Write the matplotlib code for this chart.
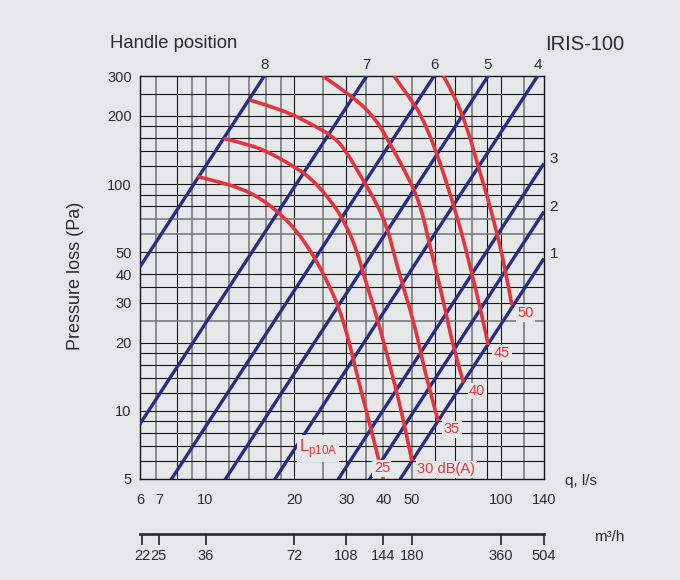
import matplotlib
matplotlib.use('Agg')
import matplotlib.pyplot as plt
from matplotlib.ticker import NullLocator
from matplotlib.path import Path
from matplotlib.patches import PathPatch
import numpy as np

plt.rcParams['font.family'] = ['Liberation Sans', 'DejaVu Sans']

# ---------------- data ----------------
x_ticks = [6, 7, 10, 20, 30, 40, 50, 100, 140]
y_ticks = [5, 10, 20, 30, 40, 50, 100, 200, 300]
m3h_ticks = [22, 25, 36, 72, 108, 144, 180, 360, 504]

grid_q = [6.8, 8, 9, 10, 12, 14, 16, 18, 20, 25, 30, 35, 40, 50, 60, 70, 80, 90, 100, 120]
grid_p = [6, 7, 8, 9, 10, 12, 14, 16, 18, 20, 25, 30, 35, 40, 50, 60, 70, 80, 90,
          100, 120, 140, 160, 180, 200, 250]

# handle positions: pressure loss p = k * q^2
handle_labels = ['1', '2', '3', '4', '5', '6', '7', '8']
handle_k = [0.0024, 0.00386, 0.0063, 0.0169, 0.0366, 0.085, 0.243, 1.2]

# sound level curves Lp10A (q in l/s, p in Pa)
level_labels = ['25', '30 dB(A)', '35', '40', '45', '50']
curve_25_q = [9.4, 11.2, 13.1, 15.3, 17.9, 20.4, 22.6, 24.4, 26.4, 28.2, 30.1, 31.7, 32.9, 38.5, 40.0]
curve_25_p = [108, 102, 96, 87, 74, 62, 51, 43, 35, 28.8, 22, 16.8, 13.7, 6.2, 5.0]
curve_30_q = [11.5, 14.0, 16.6, 19.4, 22.7, 27.1, 30.1, 32.5, 34.1, 35.9, 38.1, 40.2, 42.5, 44.9, 47.4, 50.0]
curve_30_p = [159, 150, 137, 122, 107, 82, 65, 51, 41, 33, 25.6, 19.9, 15.1, 11.4, 8.4, 6.0]
curve_35_q = [14.1, 18.3, 23.2, 27.1, 29.7, 34.2, 38.0, 41.1, 43.2, 45.6, 49.3, 52.5, 56.1, 61.4]
curve_35_p = [235, 213, 182, 162, 142, 104, 82, 65, 51, 39, 28, 20.5, 13.7, 9.0]
curve_40_q = [24.9, 31.7, 38.0, 43.2, 48.1, 53.3, 57.6, 62.2, 65.6, 69.0, 74.7]
curve_40_p = [300, 243, 192, 142, 110, 82, 53, 35.3, 26, 19.2, 13.3]
curve_45_q = [43.5, 50.5, 53.3, 59.9, 69.0, 74.7, 79.7, 85.0, 90.7]
curve_45_p = [300, 228, 205, 145, 82, 57, 40.4, 28.8, 19.5]
curve_50_q = [63.9, 69.0, 76.7, 83.9, 90.7, 96.9, 103.3, 108.9]
curve_50_p = [300, 252, 180, 119, 85, 61, 43, 29.3]

curves_q = [curve_25_q, curve_30_q, curve_35_q, curve_40_q, curve_45_q, curve_50_q]
curves_p = [curve_25_p, curve_30_p, curve_35_p, curve_40_p, curve_45_p, curve_50_p]

# ---------------- style ----------------
BG = '#e6e7e9'
BLUE = '#262d83'
RED = '#e2363e'
TXT = '#2b2b2b'
GRAY_LINE = '#7c7c7c'
BLACK_LINE = '#141414'
black_v = {8, 20, 30, 60, 70, 90, 100}
gray_h = {25, 60, 70}


def smooth_path(qs, ps):
    """Quadratic-Bezier path using the read points as control points
    (midpoints taken in log space so they sit midway on the log axes)."""
    qs = np.asarray(qs, float)
    ps = np.asarray(ps, float)
    verts = [(qs[0], ps[0])]
    codes = [Path.MOVETO]
    n = len(qs)
    for i in range(1, n - 1):
        if i < n - 2:
            end = (np.sqrt(qs[i] * qs[i + 1]), np.sqrt(ps[i] * ps[i + 1]))
        else:
            end = (qs[i + 1], ps[i + 1])
        verts += [(qs[i], ps[i]), end]
        codes += [Path.CURVE3, Path.CURVE3]
    if n == 2:
        verts.append((qs[1], ps[1]))
        codes.append(Path.LINETO)
    return Path(verts, codes)


fig = plt.figure(figsize=(6.8, 5.8), dpi=100, facecolor=BG)
ax = fig.add_axes([140 / 680, 1 - 479 / 580, 404 / 680, 403 / 580])
ax.set_facecolor(BG)
ax.set_xscale('log')
ax.set_yscale('log')
ax.set_xlim(6, 140)
ax.set_ylim(5, 300)

for v in grid_q:
    if v in black_v:
        ax.axvline(v, color=BLACK_LINE, lw=0.8, zorder=1)
    else:
        ax.axvline(v, color=GRAY_LINE, lw=1.2, zorder=1)
for v in grid_p:
    if v in gray_h:
        ax.axhline(v, color=GRAY_LINE, lw=1.2, zorder=1)
    else:
        ax.axhline(v, color=BLACK_LINE, lw=0.8, zorder=1)

for s in ax.spines.values():
    s.set_color(BLACK_LINE)
    s.set_linewidth(1.0)

# handle position lines
q_ends = np.array([6.0, 140.0])
for lbl, k in zip(handle_labels, handle_k):
    ax.plot(q_ends, k * q_ends ** 2, color=BLUE, lw=2.4, solid_capstyle='butt', zorder=3)
    p_right = k * 140.0 ** 2
    if p_right > 300:
        q_top = np.sqrt(300.0 / k)
        ax.annotate(lbl, (q_top, 300), xytext=(0, 3), textcoords='offset points',
                    ha='center', va='bottom', fontsize=11, color=TXT, annotation_clip=False)
    else:
        ax.annotate(lbl, (140, p_right), xytext=(4, 3), textcoords='offset points',
                    ha='left', va='center', fontsize=11, color=TXT, annotation_clip=False)

# sound level curves
for i, (lbl, cq, cp) in enumerate(zip(level_labels, curves_q, curves_p)):
    patch = PathPatch(smooth_path(cq, cp), fill=False, edgecolor=RED, lw=2.6,
                      capstyle='butt', joinstyle='round', transform=ax.transData, zorder=4)
    ax.add_patch(patch)
    if i == 0:
        ax.annotate(lbl, (cq[-2], cp[-2]), xytext=(2.5, -7.5), textcoords='offset points',
                    ha='center', va='center', fontsize=10.5, color=RED,
                    bbox=dict(facecolor=BG, edgecolor='none', pad=1.0), zorder=6)
    else:
        ax.annotate(lbl, (cq[-1], cp[-1]), xytext=(4, -6), textcoords='offset points',
                    ha='left', va='center', fontsize=10.5, color=RED,
                    bbox=dict(facecolor=BG, edgecolor='none', pad=1.0), zorder=6)

ax.text(24.0, 6.8, r'L$_{\mathregular{p10A}}$', color=RED, fontsize=12, ha='center', va='center',
        bbox=dict(facecolor=BG, edgecolor='none', pad=1.5), zorder=6)

ax.set_xticks(x_ticks)
ax.set_xticklabels([str(v) for v in x_ticks])
ax.set_yticks(y_ticks)
ax.set_yticklabels([str(v) for v in y_ticks])
ax.xaxis.set_minor_locator(NullLocator())
ax.yaxis.set_minor_locator(NullLocator())
ax.tick_params(axis='x', length=0, pad=10, labelsize=10.5, labelcolor=TXT)
ax.tick_params(axis='y', length=0, pad=6, labelsize=10.5, labelcolor=TXT)

# m3/h axis
ax2 = fig.add_axes([140 / 680, 1 - 534 / 580, 404 / 680, 0.0005])
ax2.set_xscale('log')
ax2.set_xlim(6 * 3.6, 140 * 3.6)
ax2.patch.set_visible(False)
for s in ['top', 'left', 'right']:
    ax2.spines[s].set_visible(False)
ax2.spines['bottom'].set_linewidth(2.0)
ax2.spines['bottom'].set_color('#333333')
ax2.set_yticks([])
ax2.set_xticks(m3h_ticks)
ax2.set_xticklabels([str(v) for v in m3h_ticks])
ax2.xaxis.set_minor_locator(NullLocator())
ax2.tick_params(axis='x', direction='out', length=8, width=1.3, color='#333333',
                pad=3, labelsize=10.5, labelcolor=TXT)

# texts
fig.text(110 / 680, 1 - 43 / 580, 'Handle position', fontsize=13.3, ha='left', va='center', color=TXT)
fig.text(545 / 680, 1 - 45 / 580, 'IRIS-100', fontsize=14.5, ha='left', va='center', color=TXT)
fig.text(76 / 680, 1 - 276 / 580, 'Pressure loss (Pa)', fontsize=13, rotation=90,
         ha='center', va='center', color=TXT)
fig.text(565 / 680, 1 - 481 / 580, 'q, l/s', fontsize=11, ha='left', va='center', color=TXT)
fig.text(594 / 680, 1 - 537 / 580, 'm³/h', fontsize=11, ha='left', va='center', color=TXT)

fig.savefig('out.png', dpi=100, facecolor=BG)
